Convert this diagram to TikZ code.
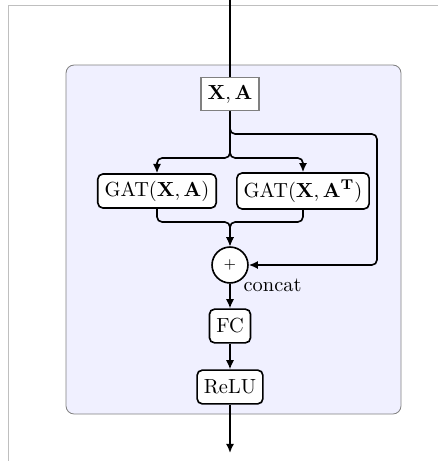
\documentclass[tikz,border=0pt]{standalone}
\usetikzlibrary{arrows.meta}

\tikzstyle{block}=[rectangle,
    rounded corners=2.5pt,
    thick,
    minimum height=16.5pt,
    draw=black,
    fill=white]
\tikzstyle{inblock}=[rectangle,
    semithick,
    minimum height=16.5pt,
    draw=gray,
    fill=white]
\tikzstyle{sum}=[circle,
    thick,
    minimum size=17.6pt,
    inner sep=0pt,
    draw=black,
    fill=white]
\tikzstyle{panel}=[draw=gray, fill=blue!6, rounded corners=4pt]
\tikzstyle{wire}=[thick, rounded corners=2.5pt]
\tikzstyle{arrow}=[wire, -{Latex[length=4.5pt,width=4pt]}]

\begin{document}
\begin{tikzpicture}[x=0.49pt, y=-0.49pt]
    \useasboundingbox (0,0) rectangle (438,461);
    \draw [gray!50] (438,5) -- (8,5) -- (8,461);
    \draw [panel] (66,65) rectangle (401,414);

    % blocks
    \node (xa) [inblock] at (230,94) {$\mathbf{X}, \mathbf{A}$};
    \node (gat1) [block] at (157,191) {GAT$(\mathbf{X}, \mathbf{A})$};
    \node (gat2) [block] at (303,191) {GAT$(\mathbf{X}, \mathbf{A}^\mathbf{T})$};
    \node (sum) [sum, label={[inner sep=0pt]below right:concat}] at (230,265) {\scriptsize$+$};
    \node (fc) [block] at (230,326) {FC};
    \node (relu) [block] at (230,387) {ReLU};

    \coordinate (in) at (230,0);
    \coordinate (out) at (230,453);
    \coordinate (tap) at (230,134);
    \coordinate (split) at (230,158);
    \coordinate (join) at (230,222);
    \coordinate (bypass) at (377,134);

    % connections
    \draw [wire] (in) -- (xa);
    \draw [arrow] (xa.south) -- (split) -| (gat1.north);
    \draw [arrow] (xa.south) -- (split) -| (gat2.north);
    \draw [arrow] (xa.south) -- (tap) -- (bypass) |- (sum.east);
    \draw [arrow] (gat1.south) |- (join) -- (sum.north);
    \draw [arrow] (gat2.south) |- (join) -- (sum.north);
    \draw [arrow] (sum) -- (fc);
    \draw [arrow] (fc) -- (relu);
    \draw [arrow] (relu) -- (out);
\end{tikzpicture}
\end{document}
